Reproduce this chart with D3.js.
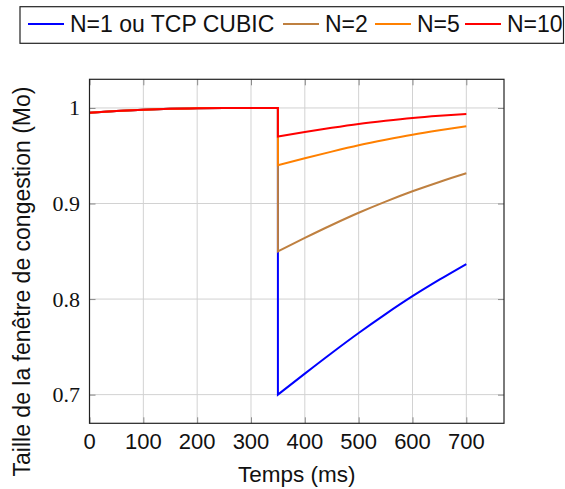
<!DOCTYPE html>
<html>
<head>
<meta charset="utf-8">
<script src="https://cdn.jsdelivr.net/npm/d3@7"></script>
<style>
  body { margin: 0; background: #fff; }
  svg { display: block; }
</style>
</head>
<body>
<svg id="canvas" width="565" height="489"></svg>
<script>
// temps (ms) avant la perte, commun a toutes les courbes
let tBefore = [0, 50, 100, 150, 200, 250, 300, 350];
let wBefore = [0.995, 0.9968, 0.9981, 0.9991, 0.9996, 0.9999, 1.0, 1.0];

// temps (ms) apres la perte
let tAfter = [350, 400, 450, 500, 550, 600, 650, 700];
let wN1 = [0.7, 0.722, 0.7436, 0.7645, 0.7843, 0.803, 0.8203, 0.8367];
let wN2 = [0.85, 0.864, 0.8775, 0.8903, 0.902, 0.9128, 0.9226, 0.9316];
let wN5 = [0.94, 0.9473, 0.9543, 0.9609, 0.9667, 0.972, 0.9766, 0.9808];
let wN10 = [0.97, 0.9749, 0.9793, 0.9833, 0.9866, 0.9895, 0.9918, 0.9937];

let seriesNames = ["N=1 ou TCP CUBIC", "N=2", "N=5", "N=10"];
let seriesColors = ["#0000ff", "#bf8040", "#ff8000", "#ff0000"];
let seriesValues = [wN1, wN2, wN5, wN10];

let xTicks = [0, 100, 200, 300, 400, 500, 600, 700];
let yTicks = [0.7, 0.8, 0.9, 1];

let canvas = d3.select("#canvas");

let plotLeft = 89.5, plotRight = 504, plotTop = 79.3, plotBottom = 423.3;

let xScale = d3.scaleLinear().domain([0, 770]).range([plotLeft, plotRight]);
let yScale = d3.scaleLinear().domain([0.67, 1.03]).range([plotBottom, plotTop]);

// grille
let grid = canvas.append("g");
grid.selectAll(".gx")
  .data(xTicks)
  .enter()
  .append("line")
  .attr("x1", (d) => xScale(d))
  .attr("x2", (d) => xScale(d))
  .attr("y1", plotTop)
  .attr("y2", plotBottom)
  .attr("stroke", "#d2d2d2")
  .attr("stroke-width", 1);
grid.selectAll(".gy")
  .data(yTicks)
  .enter()
  .append("line")
  .attr("x1", plotLeft)
  .attr("x2", plotRight)
  .attr("y1", (d) => yScale(d))
  .attr("y2", (d) => yScale(d))
  .attr("stroke", "#d2d2d2")
  .attr("stroke-width", 1);

// axes (graduations vers l'interieur, des deux cotes)
let xAxisBottom = d3.axisBottom(xScale).tickValues(xTicks).tickSize(-6).tickFormat("");
let xAxisTop = d3.axisTop(xScale).tickValues(xTicks).tickSize(-6).tickFormat("");
let yAxisLeft = d3.axisLeft(yScale).tickValues(yTicks).tickSize(-6).tickFormat("");
let yAxisRight = d3.axisRight(yScale).tickValues(yTicks).tickSize(-6).tickFormat("");

let axes = [
  [xAxisBottom, "translate(0," + plotBottom + ")"],
  [xAxisTop, "translate(0," + plotTop + ")"],
  [yAxisLeft, "translate(" + plotLeft + ",0)"],
  [yAxisRight, "translate(" + plotRight + ",0)"]
];
axes.forEach((a) => {
  let g = canvas.append("g").attr("transform", a[1]).call(a[0]);
  g.select(".domain").remove();
  g.selectAll(".tick line").attr("stroke", "#8a8a8a").attr("stroke-width", 1);
});

// etiquettes des graduations
canvas.append("g")
  .selectAll("text")
  .data(xTicks)
  .enter()
  .append("text")
  .attr("x", (d) => xScale(d))
  .attr("y", 449)
  .attr("text-anchor", "middle")
  .attr("font-family", "Liberation Sans, Arial, sans-serif")
  .attr("font-size", 22)
  .attr("fill", "#111")
  .text((d) => d);

canvas.append("g")
  .selectAll("text")
  .data(yTicks)
  .enter()
  .append("text")
  .attr("x", 80)
  .attr("y", (d) => yScale(d) + 7.5)
  .attr("text-anchor", "end")
  .attr("font-family", "Liberation Serif, Times New Roman, serif")
  .attr("font-size", 22)
  .attr("fill", "#111")
  .text((d) => (d === 1 ? "1" : d3.format(".1f")(d)));

// courbes : partie lisse avant la perte, chute verticale, partie lisse apres
let smooth = d3.line()
  .x((p) => xScale(p[0]))
  .y((p) => yScale(p[1]))
  .curve(d3.curveMonotoneX);

let curves = canvas.append("g");
seriesValues.forEach((values, i) => {
  let before = tBefore.map((t, k) => [t, wBefore[k]]);
  let after = tAfter.map((t, k) => [t, values[k]]);
  let d = smooth(before) + smooth(after).replace(/^M/, "L");
  curves.append("path")
    .attr("d", d)
    .attr("fill", "none")
    .attr("stroke", seriesColors[i])
    .attr("stroke-width", 2)
    .attr("stroke-linejoin", "miter");
});

// cadre
canvas.append("rect")
  .attr("x", plotLeft)
  .attr("y", plotTop)
  .attr("width", plotRight - plotLeft)
  .attr("height", plotBottom - plotTop)
  .attr("fill", "none")
  .attr("stroke", "#222")
  .attr("stroke-width", 1.2);

// titres des axes
canvas.append("text")
  .attr("x", (plotLeft + plotRight) / 2)
  .attr("y", 481.5)
  .attr("text-anchor", "middle")
  .attr("font-family", "Liberation Sans, Arial, sans-serif")
  .attr("font-size", 22.5)
  .attr("fill", "#111")
  .text("Temps (ms)");

canvas.append("text")
  .attr("transform", "translate(30,281.5) rotate(-90)")
  .attr("text-anchor", "middle")
  .attr("font-family", "Liberation Sans, Arial, sans-serif")
  .attr("font-size", 23)
  .attr("fill", "#111")
  .text("Taille de la fenêtre de congestion (Mo)");

// legende
canvas.append("rect")
  .attr("x", 20)
  .attr("y", 6.7)
  .attr("width", 543.5)
  .attr("height", 36.6)
  .attr("fill", "#fff")
  .attr("stroke", "#222")
  .attr("stroke-width", 1.2);

let legendX = [28, 283, 375, 465];
let legend = canvas.append("g")
  .selectAll("g")
  .data(seriesNames)
  .enter()
  .append("g")
  .attr("transform", (d, i) => "translate(" + legendX[i] + ",24)");
legend.append("line")
  .attr("x1", 0)
  .attr("x2", 36)
  .attr("stroke", (d, i) => seriesColors[i])
  .attr("stroke-width", 2);
legend.append("text")
  .attr("x", 42)
  .attr("y", 8.3)
  .attr("font-family", "Liberation Sans, Arial, sans-serif")
  .attr("font-size", 23)
  .attr("fill", "#111")
  .text((d) => d);
</script>
</body>
</html>
